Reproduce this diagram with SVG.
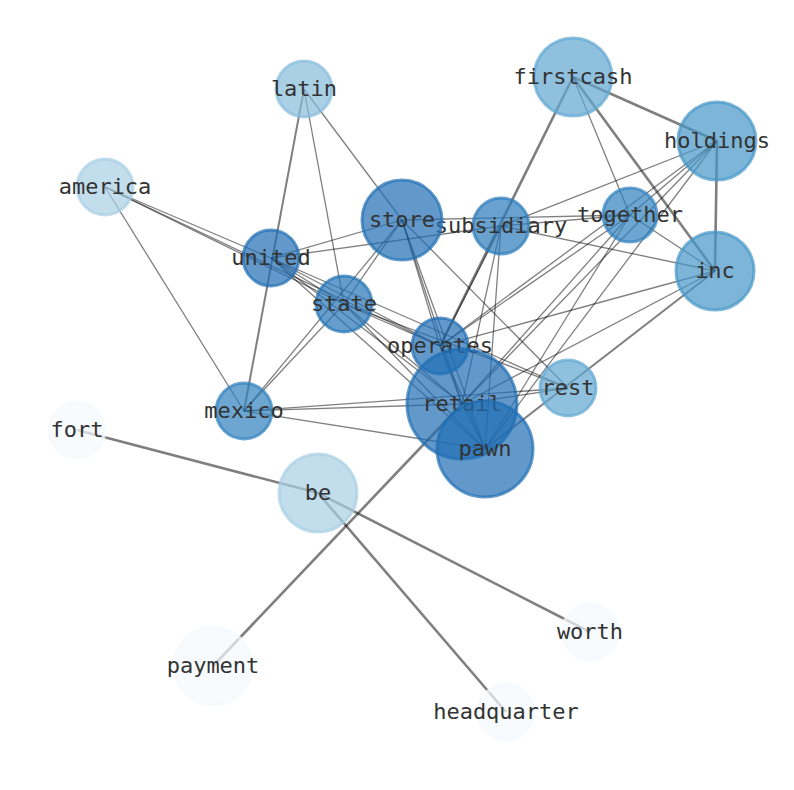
<svg xmlns="http://www.w3.org/2000/svg" width="794" height="790" viewBox="0 0 794 790">
<style>
.e line{stroke:#000;stroke-opacity:0.5;stroke-width:1.3;fill:none}
.e line.t{stroke-width:2.6}
.n circle{fill-opacity:0.7;stroke-opacity:0.7;stroke-width:3}
.n text{font-family:"DejaVu Sans Mono",monospace;font-size:22px;fill:#333;text-anchor:middle}
</style>
<rect width="794" height="790" fill="#fff"/>
<g id="edges" class="e">
<line class="t" x1="573" y1="77" x2="717" y2="141"/>
<line class="t" x1="573" y1="77" x2="715" y2="271"/>
<line class="t" x1="717" y1="141" x2="715" y2="271"/>
<line class="t" x1="573" y1="77" x2="440" y2="346"/>
<line class="t" style="stroke-width:2" x1="304" y1="89" x2="244" y2="411"/>
<line class="t" style="stroke-width:2" x1="715" y1="271" x2="485" y2="449"/>
<line class="t" x1="213" y1="666" x2="462" y2="404"/>
<line class="t" x1="77" y1="430" x2="318" y2="493"/>
<line class="t" x1="318" y1="493" x2="590" y2="632"/>
<line class="t" x1="318" y1="493" x2="506" y2="712"/>
<line x1="573" y1="77" x2="630" y2="215"/>
<line x1="717" y1="141" x2="501" y2="226"/>
<line x1="717" y1="141" x2="630" y2="215"/>
<line x1="717" y1="141" x2="440" y2="346"/>
<line x1="717" y1="141" x2="462" y2="404"/>
<line x1="717" y1="141" x2="485" y2="449"/>
<line x1="630" y1="215" x2="715" y2="271"/>
<line x1="630" y1="215" x2="501" y2="226"/>
<line x1="630" y1="215" x2="402" y2="220"/>
<line x1="630" y1="215" x2="440" y2="346"/>
<line x1="630" y1="215" x2="462" y2="404"/>
<line x1="630" y1="215" x2="485" y2="449"/>
<line x1="715" y1="271" x2="501" y2="226"/>
<line x1="715" y1="271" x2="440" y2="346"/>
<line x1="715" y1="271" x2="462" y2="404"/>
<line x1="501" y1="226" x2="271" y2="258"/>
<line x1="501" y1="226" x2="440" y2="346"/>
<line x1="501" y1="226" x2="462" y2="404"/>
<line x1="501" y1="226" x2="485" y2="449"/>
<line x1="402" y1="220" x2="271" y2="258"/>
<line x1="402" y1="220" x2="344" y2="304"/>
<line x1="402" y1="220" x2="244" y2="411"/>
<line x1="402" y1="220" x2="440" y2="346"/>
<line x1="402" y1="220" x2="462" y2="404"/>
<line x1="402" y1="220" x2="485" y2="449"/>
<line x1="402" y1="220" x2="568" y2="388"/>
<line x1="402" y1="220" x2="304" y2="89"/>
<line x1="304" y1="89" x2="344" y2="304"/>
<line x1="105" y1="187" x2="271" y2="258"/>
<line x1="105" y1="187" x2="344" y2="304"/>
<line x1="105" y1="187" x2="440" y2="346"/>
<line x1="105" y1="187" x2="244" y2="411"/>
<line x1="271" y1="258" x2="344" y2="304"/>
<line x1="271" y1="258" x2="440" y2="346"/>
<line x1="271" y1="258" x2="462" y2="404"/>
<line x1="271" y1="258" x2="485" y2="449"/>
<line x1="271" y1="258" x2="568" y2="388"/>
<line x1="344" y1="304" x2="440" y2="346"/>
<line x1="344" y1="304" x2="462" y2="404"/>
<line x1="344" y1="304" x2="485" y2="449"/>
<line x1="344" y1="304" x2="568" y2="388"/>
<line x1="344" y1="304" x2="244" y2="411"/>
<line x1="244" y1="411" x2="462" y2="404"/>
<line x1="244" y1="411" x2="568" y2="388"/>
<line x1="244" y1="411" x2="485" y2="449"/>
<line x1="440" y1="346" x2="462" y2="404"/>
<line x1="440" y1="346" x2="485" y2="449"/>
<line x1="462" y1="404" x2="485" y2="449"/>
<line x1="462" y1="404" x2="568" y2="388"/>
</g>
<g id="node-fort" class="n"><circle cx="77" cy="430" r="28" fill="#f4f9fe" stroke="#f4f9fe"/><text x="77" y="437">fort</text></g>
<g id="node-worth" class="n"><circle cx="590" cy="632" r="28" fill="#f4f9fe" stroke="#f4f9fe"/><text x="590" y="639">worth</text></g>
<g id="node-payment" class="n"><circle cx="213" cy="666" r="39" fill="#f4f9fe" stroke="#f4f9fe"/><text x="213" y="673">payment</text></g>
<g id="node-headquarter" class="n"><circle cx="506" cy="712" r="28" fill="#f4f9fe" stroke="#f4f9fe"/><text x="506" y="719">headquarter</text></g>
<g id="node-be" class="n"><circle cx="318" cy="493" r="39" fill="#a8cee4" stroke="#a8cee4"/><text x="318" y="500">be</text></g>
<g id="node-america" class="n"><circle cx="105" cy="187" r="28" fill="#a8cee4" stroke="#a8cee4"/><text x="105" y="194">america</text></g>
<g id="node-latin" class="n"><circle cx="304" cy="89" r="28" fill="#86bcdc" stroke="#86bcdc"/><text x="304" y="96">latin</text></g>
<g id="node-firstcash" class="n"><circle cx="573" cy="77" r="39" fill="#5fa6d1" stroke="#5fa6d1"/><text x="573" y="84">firstcash</text></g>
<g id="node-rest" class="n"><circle cx="568" cy="388" r="28" fill="#5fa6d1" stroke="#5fa6d1"/><text x="568" y="395">rest</text></g>
<g id="node-holdings" class="n"><circle cx="717" cy="141" r="39" fill="#4595c8" stroke="#4595c8"/><text x="717" y="148">holdings</text></g>
<g id="node-inc" class="n"><circle cx="715" cy="271" r="39" fill="#4595c8" stroke="#4595c8"/><text x="715" y="278">inc</text></g>
<g id="node-together" class="n"><circle cx="630" cy="215" r="27" fill="#2f80bd" stroke="#2f80bd"/><text x="630" y="222">together</text></g>
<g id="node-mexico" class="n"><circle cx="244" cy="411" r="28" fill="#2f80bd" stroke="#2f80bd"/><text x="244" y="418">mexico</text></g>
<g id="node-subsidiary" class="n"><circle cx="501" cy="226" r="28" fill="#2a7aba" stroke="#2a7aba"/><text x="501" y="233">subsidiary</text></g>
<g id="node-store" class="n"><circle cx="402" cy="220" r="40" fill="#1f6eb3" stroke="#1f6eb3"/><text x="402" y="227">store</text></g>
<g id="node-united" class="n"><circle cx="271" cy="258" r="28" fill="#1f6eb3" stroke="#1f6eb3"/><text x="271" y="265">united</text></g>
<g id="node-state" class="n"><circle cx="344" cy="304" r="28" fill="#2474b6" stroke="#2474b6"/><text x="344" y="311">state</text></g>
<g id="node-operates" class="n"><circle cx="440" cy="346" r="28" fill="#1f6eb3" stroke="#1f6eb3"/><text x="440" y="353">operates</text></g>
<g id="node-retail" class="n"><circle cx="462" cy="404" r="55" fill="#1f6eb3" stroke="#1f6eb3"/><text x="462" y="411">retail</text></g>
<g id="node-pawn" class="n"><circle cx="485" cy="449" r="48" fill="#1f6eb3" stroke="#1f6eb3"/><text x="485" y="456">pawn</text></g>
</svg>
